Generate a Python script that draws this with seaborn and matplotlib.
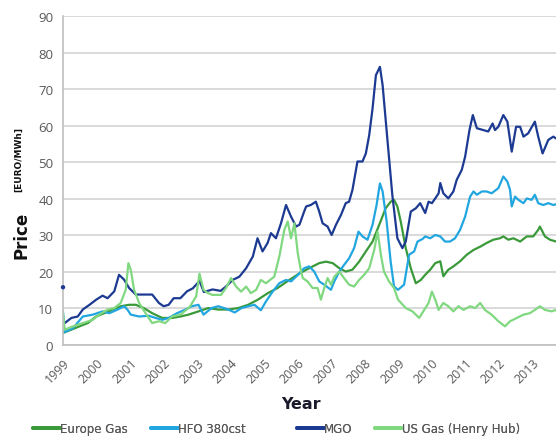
import numpy as np
import pandas as pd
import matplotlib
matplotlib.use("Agg")
import matplotlib.pyplot as plt
import seaborn as sns

series_names = ["Europe Gas", "HFO 380cst", "MGO", "US Gas (Henry Hub)"]
colors = ["#3a9a3a", "#22a6e0", "#1c3a92", "#80d880"]
year_ticks = list(range(1999, 2014))
y_ticks = [0, 10, 20, 30, 40, 50, 60, 70, 80, 90]

mgo_start_year = [1999.0]
mgo_start_value = [15.8]

mgo_years = [1999.05, 1999.25, 1999.44, 1999.59, 1999.79, 1999.99, 2000.18, 2000.33, 2000.53, 2000.67,
             2000.82, 2000.97, 2001.17, 2001.46, 2001.66, 2001.86, 2002.0, 2002.15, 2002.3, 2002.5,
             2002.7, 2002.87, 2003.07, 2003.2, 2003.46, 2003.7, 2003.86, 2004.06, 2004.26, 2004.46,
             2004.66, 2004.8, 2004.95, 2005.1, 2005.2, 2005.35, 2005.5, 2005.65, 2005.8, 2005.95,
             2006.05, 2006.19, 2006.25, 2006.39, 2006.54, 2006.64, 2006.74, 2006.89, 2007.01, 2007.14,
             2007.29, 2007.43, 2007.53, 2007.63, 2007.78, 2007.93, 2008.03, 2008.13, 2008.23, 2008.33,
             2008.45, 2008.53, 2008.67, 2008.82, 2008.97, 2009.12, 2009.22, 2009.37, 2009.52, 2009.65,
             2009.8, 2009.9, 2010.0, 2010.1, 2010.2, 2010.25, 2010.34, 2010.49, 2010.64, 2010.74,
             2010.89, 2010.99, 2011.12, 2011.22, 2011.34, 2011.53, 2011.68, 2011.81, 2011.88, 2011.98,
             2012.13, 2012.25, 2012.38, 2012.51, 2012.63, 2012.73, 2012.87, 2013.07, 2013.17, 2013.3,
             2013.47, 2013.62, 2013.7]
mgo_values = [6.0, 7.4, 7.8, 9.7, 11.0, 12.4, 13.5, 12.8, 14.7, 19.2,
              17.9, 15.6, 13.8, 13.8, 13.8, 11.5, 10.6, 11.0, 12.8, 12.8,
              14.7, 15.5, 17.5, 14.5, 15.2, 14.8, 16.0, 17.8, 18.7, 21.0,
              24.2, 29.2, 25.6, 27.9, 30.6, 29.2, 33.3, 38.3, 35.1, 32.4,
              32.9, 36.5, 37.9, 38.3, 39.2, 36.5, 33.3, 32.4, 30.1, 32.9,
              35.6, 38.8, 39.2, 42.4, 50.2, 50.2, 52.4, 57.4, 64.7, 73.8,
              76.1, 71.1, 56.5, 41.0, 29.2, 26.5, 28.3, 36.5, 37.4, 38.8,
              36.1, 39.2, 38.8, 40.1, 41.5, 44.3, 41.5, 40.1, 42.0, 45.2,
              47.9, 51.5, 58.8, 62.9, 59.3, 58.8, 58.4, 60.6, 58.8, 59.7,
              62.9, 61.1, 52.9, 59.7, 59.7, 57.0, 57.9, 61.1, 57.0, 52.4,
              56.1, 57.0, 56.5]

hfo_years = [1999.0, 1999.04, 1999.3, 1999.59, 1999.89, 2000.18, 2000.38, 2000.63, 2000.82, 2000.92,
             2001.02, 2001.27, 2001.56, 2001.76, 2001.96, 2002.15, 2002.4, 2002.65, 2002.84, 2003.04,
             2003.19, 2003.43, 2003.63, 2003.93, 2004.12, 2004.32, 2004.52, 2004.71, 2004.9, 2005.05,
             2005.25, 2005.45, 2005.65, 2005.8, 2005.95, 2006.05, 2006.19, 2006.34, 2006.49, 2006.64,
             2006.79, 2006.99, 2007.09, 2007.24, 2007.38, 2007.53, 2007.68, 2007.81, 2007.93, 2008.08,
             2008.23, 2008.35, 2008.45, 2008.53, 2008.65, 2008.77, 2008.87, 2008.99, 2009.17, 2009.32,
             2009.47, 2009.57, 2009.72, 2009.8, 2009.95, 2010.1, 2010.25, 2010.39, 2010.54, 2010.69,
             2010.84, 2010.99, 2011.14, 2011.24, 2011.34, 2011.49, 2011.63, 2011.78, 2011.98, 2012.13,
             2012.25, 2012.33, 2012.38, 2012.48, 2012.58, 2012.73, 2012.83, 2012.97, 2013.07, 2013.17,
             2013.32, 2013.47, 2013.62, 2013.7]
hfo_values = [9.2, 3.5, 4.6, 7.8, 8.3, 9.2, 8.7, 9.7, 10.6, 9.7,
              8.3, 7.8, 8.0, 7.4, 6.9, 7.4, 8.7, 9.7, 10.6, 11.0,
              8.3, 10.1, 10.6, 9.7, 8.9, 10.1, 10.6, 11.0, 9.5, 11.9,
              14.6, 16.9, 17.8, 17.4, 18.7, 19.6, 21.0, 21.5, 20.1, 17.4,
              16.5, 15.1, 17.4, 20.1, 21.9, 23.7, 26.5, 31.0, 29.7, 28.8,
              32.9, 38.3, 44.2, 42.0, 33.8, 22.8, 16.0, 15.1, 16.5, 24.7,
              25.6, 28.3, 29.0, 29.7, 29.2, 30.1, 29.7, 28.3, 28.3, 29.2,
              31.5, 35.1, 40.6, 42.0, 41.1, 42.0, 42.0, 41.5, 42.9, 46.1,
              44.7, 42.4, 37.9, 40.6, 39.7, 38.8, 40.1, 39.7, 41.1, 38.8,
              38.3, 38.8, 38.3, 38.5]

eu_years = [1999.0, 1999.25, 1999.49, 1999.74, 1999.99, 2000.23, 2000.48, 2000.72, 2000.97, 2001.17,
            2001.41, 2001.66, 2001.96, 2002.25, 2002.5, 2002.74, 2003.04, 2003.33, 2003.63, 2003.93,
            2004.22, 2004.52, 2004.81, 2005.11, 2005.4, 2005.75, 2006.05, 2006.34, 2006.64, 2006.84,
            2007.04, 2007.24, 2007.43, 2007.63, 2007.83, 2008.03, 2008.23, 2008.43, 2008.62, 2008.77,
            2008.87, 2008.97, 2009.07, 2009.22, 2009.37, 2009.52, 2009.67, 2009.8, 2009.95, 2010.1,
            2010.25, 2010.34, 2010.49, 2010.64, 2010.84, 2011.04, 2011.24, 2011.44, 2011.63, 2011.83,
            2012.03, 2012.13, 2012.28, 2012.43, 2012.63, 2012.83, 2013.02, 2013.17, 2013.22, 2013.37,
            2013.52, 2013.7]
eu_values = [3.3, 4.2, 5.1, 6.0, 7.8, 8.7, 9.7, 10.6, 11.0, 11.0,
             10.1, 8.7, 7.4, 7.4, 7.8, 8.3, 9.2, 10.1, 9.7, 9.7,
             10.1, 11.0, 12.4, 14.2, 15.6, 17.8, 19.6, 21.0, 22.4, 22.8,
             22.4, 21.0, 20.1, 20.6, 22.8, 25.6, 28.3, 32.9, 37.4, 39.2,
             39.7, 37.9, 33.8, 26.5, 21.0, 16.9, 17.8, 19.2, 20.6, 22.4,
             22.9, 18.8, 20.6, 21.5, 22.9, 24.7, 26.0, 26.9, 27.9, 28.8,
             29.2, 29.7, 28.8, 29.2, 28.3, 29.7, 29.7, 31.5, 32.4, 29.7,
             28.8, 28.3]

us_years = [1999.0, 1999.05, 1999.3, 1999.59, 1999.89, 2000.08, 2000.33, 2000.53, 2000.72, 2000.87,
            2000.95, 2001.02, 2001.12, 2001.27, 2001.46, 2001.66, 2001.86, 2002.05, 2002.25, 2002.5,
            2002.77, 2002.97, 2003.07, 2003.19, 2003.32, 2003.46, 2003.71, 2003.86, 2004.01, 2004.16,
            2004.31, 2004.46, 2004.6, 2004.76, 2004.9, 2005.05, 2005.3, 2005.45, 2005.6, 2005.7,
            2005.8, 2005.9, 2006.0, 2006.1, 2006.15, 2006.29, 2006.44, 2006.59, 2006.69, 2006.79,
            2006.89, 2006.99, 2007.09, 2007.24, 2007.38, 2007.53, 2007.68, 2007.83, 2007.98, 2008.13,
            2008.28, 2008.38, 2008.48, 2008.57, 2008.72, 2008.87, 2008.99, 2009.22, 2009.42, 2009.62,
            2009.77, 2009.9, 2010.0, 2010.1, 2010.2, 2010.34, 2010.49, 2010.64, 2010.79, 2010.94,
            2011.14, 2011.29, 2011.44, 2011.58, 2011.78, 2011.98, 2012.18, 2012.33, 2012.53, 2012.73,
            2012.92, 2013.07, 2013.22, 2013.37, 2013.57, 2013.7]
us_values = [8.7, 4.2, 5.1, 6.0, 6.9, 8.3, 9.7, 10.1, 11.5, 15.1,
             22.4, 20.6, 15.1, 11.5, 8.7, 6.0, 6.5, 6.0, 7.8, 8.3,
             10.3, 13.3, 19.5, 15.1, 14.2, 13.7, 13.7, 15.6, 18.3, 16.0,
             14.6, 16.0, 14.2, 15.1, 17.8, 16.9, 18.7, 24.2, 31.5, 33.8,
             29.2, 33.3, 25.1, 20.1, 18.3, 17.4, 15.6, 15.6, 12.4, 15.6,
             18.3, 16.5, 18.7, 20.1, 18.3, 16.5, 16.0, 17.8, 19.2, 21.0,
             26.0, 31.0, 24.6, 20.1, 17.4, 15.6, 12.4, 10.1, 9.2, 7.4,
             9.6, 11.5, 14.6, 12.4, 9.6, 11.5, 10.6, 9.2, 10.6, 9.6,
             10.6, 10.1, 11.5, 9.6, 8.3, 6.5, 5.1, 6.5, 7.4, 8.3,
             8.7, 9.6, 10.6, 9.6, 9.2, 9.6]

frames = []
for name, yrs, vals in zip(series_names,
                           [eu_years, hfo_years, mgo_years, us_years],
                           [eu_values, hfo_values, mgo_values, us_values]):
    frames.append(pd.DataFrame({"Year": yrs, "Price": vals, "Series": name}))
df = pd.concat(frames, ignore_index=True)
dot_df = pd.DataFrame({"Year": mgo_start_year, "Price": mgo_start_value})

sns.set_style("white")
plt.rcParams["font.family"] = ["DejaVu Sans"]

fig = plt.figure(figsize=(5.56, 4.39), dpi=100)
ax = fig.add_axes([63 / 556, 93 / 439, 1 - 63 / 556, 329 / 439])

sns.lineplot(data=df, x="Year", y="Price", hue="Series", hue_order=series_names,
             palette=dict(zip(series_names, colors)), estimator=None, linewidth=1.6,
             ax=ax, legend=True)
sns.scatterplot(data=dot_df, x="Year", y="Price", color=colors[2], s=10,
                edgecolor="none", ax=ax, legend=False, clip_on=False, zorder=5)

ax.set_xlim(1999, 2013.7)
ax.set_ylim(0, 90)
ax.set_yticks(y_ticks)
ax.set_xticks(year_ticks)
ax.set_xticklabels([str(y) for y in year_ticks], rotation=45, ha="right",
                   rotation_mode="anchor", fontsize=9, color="#595959",
                   family="Open Sans")
ax.set_yticklabels([str(v) for v in y_ticks], fontsize=9.5, color="#595959",
                   family="Open Sans")
ax.yaxis.grid(True, color="#d9d9d9", linewidth=1.4)
ax.xaxis.grid(False)
ax.set_axisbelow(True)
for side in ["top", "right"]:
    ax.spines[side].set_visible(False)
for side in ["left", "bottom"]:
    ax.spines[side].set_color("#bfbfbf")
    ax.spines[side].set_linewidth(1.2)
ax.tick_params(axis="both", length=4, color="#bfbfbf", width=1, pad=3)
ax.tick_params(axis="x", pad=4)
ax.set_xlabel("")
ax.set_ylabel("")

fig.text(301 / 556, 1 - 405 / 439, "Year", ha="center", va="center",
         fontsize=11.5, fontweight="bold", color="#1a1a2a")
fig.text(22 / 556, 1 - 235 / 439, "Price", ha="center", va="center", rotation=90,
         fontsize=12, fontweight="bold", color="#111111")
fig.text(19 / 556, 1 - 160 / 439, "[EURO/MWh]", ha="center", va="center", rotation=90,
         fontsize=6.5, fontweight="bold", color="#111111")

handles, labels = ax.get_legend_handles_labels()
ax.get_legend().remove()
legend_x = [33, 151, 297, 375]
for h, lab, lx in zip(handles, labels, legend_x):
    h.set_linewidth(2.8)
    leg = fig.legend([h], [lab], loc="center left", bbox_to_anchor=(lx / 556, 1 - 430 / 439),
                     frameon=False, fontsize=8.5, handlelength=2.3, handletextpad=0.0,
                     borderpad=0, borderaxespad=0, labelcolor="#595959")
    fig.add_artist(leg)

fig.savefig("out.png", dpi=100)
